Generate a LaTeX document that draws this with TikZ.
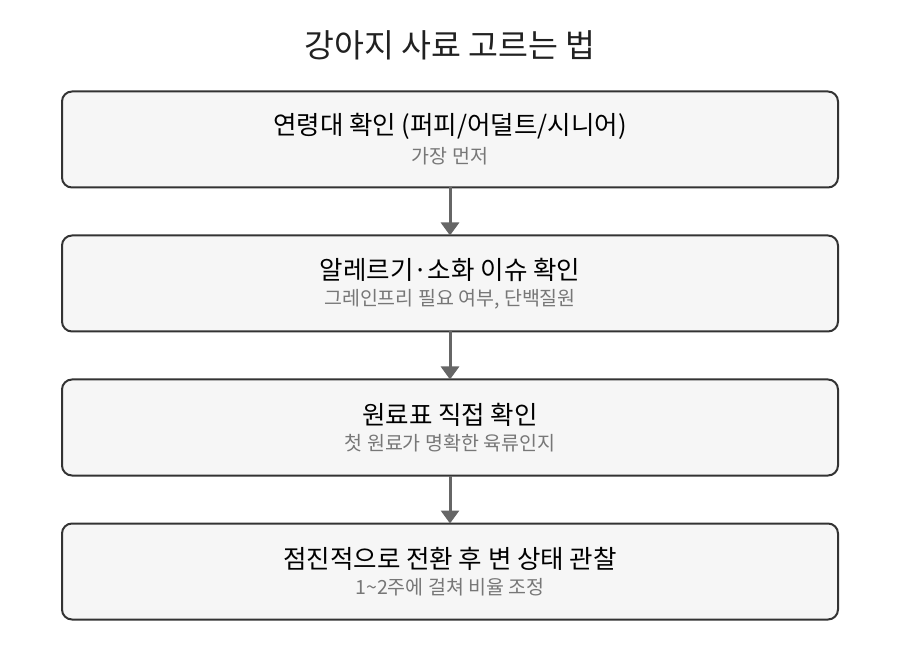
\documentclass[tikz,border=0pt]{standalone}
\usepackage{fontspec}
\setmainfont{Noto Sans CJK KR}
\usetikzlibrary{positioning, arrows.meta}

\definecolor{boxfill}{HTML}{F6F6F6}
\definecolor{boxline}{HTML}{333333}
\definecolor{arrowgray}{HTML}{666666}
\definecolor{subgray}{HTML}{777777}

\begin{document}
\begin{tikzpicture}
[
    x = 1pt, y = 1pt,
    stepbox/.style = {draw = boxline, line width = 2pt, fill = boxfill, rounded corners = 10pt,
        minimum width = 776pt, minimum height = 96pt, align = center, inner sep = 0pt, outer sep = 0pt},
    flow/.style = {draw = arrowgray, line width = 3pt, -{Triangle[length = 13pt, width = 18pt]}},
    node distance = 48pt
]
\useasboundingbox (0,0) rectangle (900,-660);

\node (title) at (450,-45) [font = \fontsize{32.5}{36}\selectfont, text = black!87] {강아지 사료 고르는 법};

\node (age) at (450,-139.5) [stepbox]
    {\fontsize{25.5}{28}\selectfont 연령대 확인 (퍼피/어덜트/시니어)\\[7pt]
     \fontsize{19.5}{22}\selectfont\color{subgray} 가장 먼저};
\node (allergy) [stepbox, below = of age]
    {\fontsize{25.5}{28}\selectfont 알레르기·소화 이슈 확인\\[7pt]
     \fontsize{19.5}{22}\selectfont\color{subgray} 그레인프리 필요 여부, 단백질원};
\node (label) [stepbox, below = of allergy]
    {\fontsize{25.5}{28}\selectfont 원료표 직접 확인\\[7pt]
     \fontsize{19.5}{22}\selectfont\color{subgray} 첫 원료가 명확한 육류인지};
\node (switch) [stepbox, below = of label]
    {\fontsize{25.5}{28}\selectfont 점진적으로 전환 후 변 상태 관찰\\[7pt]
     \fontsize{19.5}{22}\selectfont\color{subgray} 1\textasciitilde 2주에 걸쳐 비율 조정};

% connectors
\draw [flow] (age) -- (allergy);
\draw [flow] (allergy) -- (label);
\draw [flow] (label) -- (switch);

\end{tikzpicture}
\end{document}
